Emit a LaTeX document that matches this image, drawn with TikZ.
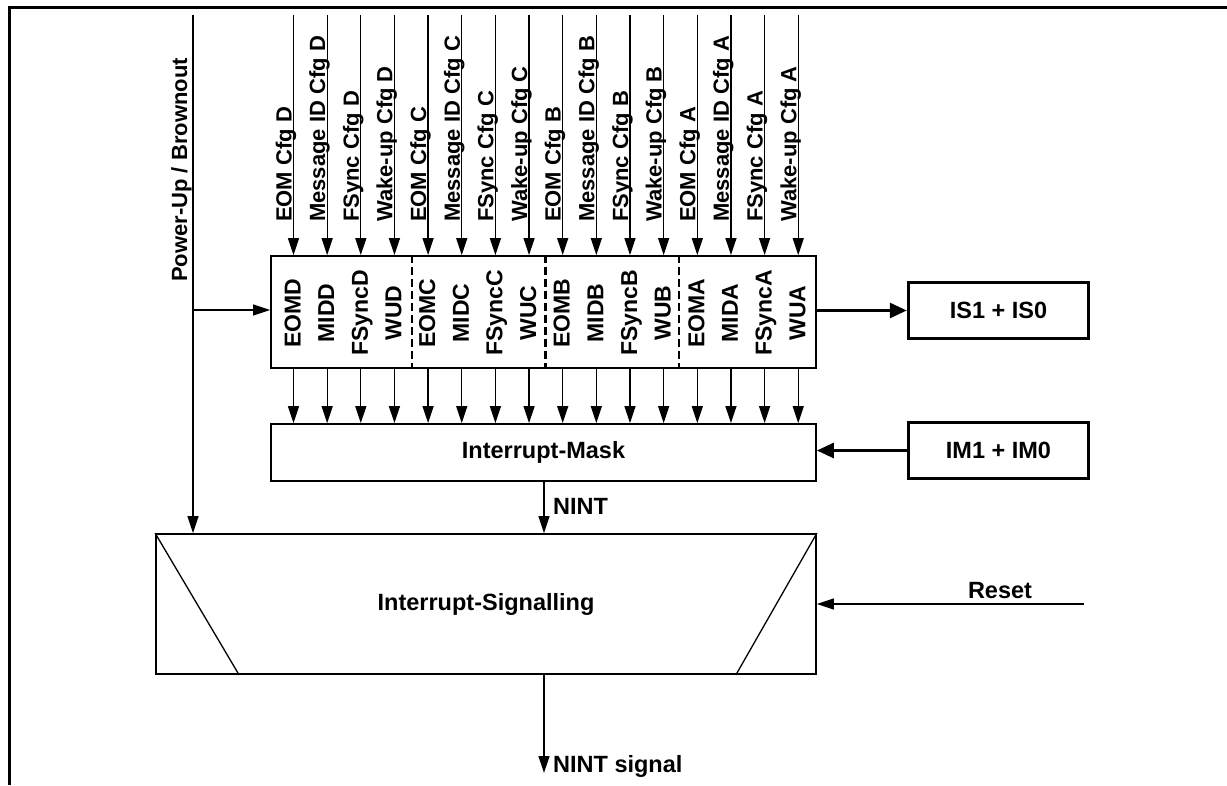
\documentclass[tikz,border=0pt]{standalone}
\usepackage{fontspec}
\setmainfont{Liberation Sans}
\usetikzlibrary{arrows.meta,calc}
\begin{document}
\begin{tikzpicture}[x=1pt,y=-1pt,
  every node/.style={font=\fontsize{23.5}{26}\selectfont\bfseries},
  small/.style={font=\fontsize{22}{25}\selectfont\bfseries},
  arr/.style={line width=1.3pt,-{Triangle[length=17pt,width=11pt]}},
  thickarr/.style={line width=3pt,-{Triangle[length=17pt,width=15pt]}},
  box/.style={draw,line width=1.8pt,inner sep=0pt},
  cfgbox/.style={draw,line width=3.5pt,inner sep=0pt,minimum width=180pt,minimum height=56pt},
  cfglabel/.style={small,rotate=90,anchor=base west,inner sep=0pt},
  bitlabel/.style={font=\fontsize{23}{26}\selectfont\bfseries,rotate=90,anchor=base,inner sep=0pt},
  sepline/.style={line width=2.2pt,dash pattern=on 8pt off 4pt},
]
\useasboundingbox (0,0) rectangle (1227,785);
\draw[line width=3pt] (9,785) -- (9,7) -- (1227,7);

\node[box,minimum width=545pt,minimum height=112pt] (reg) at (543.5,312) {};
\node[box,minimum width=545pt,minimum height=57pt] (mask) at (543.5,452.5) {Interrupt-Mask};
\node[box,minimum width=660pt,minimum height=140pt] (sig) at (486,604) {Interrupt-Signalling};
\node[cfgbox] (is) at (998.5,310.5) {IS1 + IS0};
\node[cfgbox] (im) at (998.5,450.5) {IM1 + IM0};

\foreach \i/\lab/\bit in {0/EOM Cfg D/EOMD, 1/Message ID Cfg D/MIDD, 2/FSync Cfg D/FSyncD, 3/Wake-up Cfg D/WUD,
  4/EOM Cfg C/EOMC, 5/Message ID Cfg C/MIDC, 6/FSync Cfg C/FSyncC, 7/Wake-up Cfg C/WUC,
  8/EOM Cfg B/EOMB, 9/Message ID Cfg B/MIDB, 10/FSync Cfg B/FSyncB, 11/Wake-up Cfg B/WUB,
  12/EOM Cfg A/EOMA, 13/Message ID Cfg A/MIDA, 14/FSync Cfg A/FSyncA, 15/Wake-up Cfg A/WUA} {
  \pgfmathsetmacro\xx{293.5+33.65*\i}
  \coordinate (t\i) at (\xx,15);
  \draw[arr] (t\i) -- (t\i |- reg.north);
  \node[cfglabel] (l\i) at (\xx-2,222) {\lab};
  \node[bitlabel] (b\i) at (\xx+7,313) {\bit};
  \draw[arr] (t\i |- reg.south) -- (t\i |- mask.north);
}
\foreach \x/\n in {412/1,545.5/2,679/3} {
  \coordinate (d\n) at (\x,0);
  \draw[sepline] (d\n |- reg.north) -- (d\n |- reg.south);
}

\coordinate (pw) at (193,15);
\draw[arr] (pw) -- (pw |- sig.north);
\coordinate (pb) at (193,310);
\draw[arr] (pb) -- (pb -| reg.west);
\node[small,rotate=90,anchor=base east,inner sep=0pt] (pwl) at (187,58) {Power-Up / Brownout};

\draw[thickarr] (reg.east |- is.west) -- (is.west);
\draw[thickarr] (im.west) -- (im.west -| mask.east);

\coordinate (nx) at (544,0);
\draw[arr] (nx |- mask.south) -- (nx |- sig.north);
\node[anchor=base west,inner sep=0pt] (nintl) at (553,514) {NINT};
\coordinate (ns) at (544,773);
\draw[arr] (nx |- sig.south) -- (ns);
\node[anchor=base west,inner sep=0pt] (nsl) at (553,772) {NINT signal};

\coordinate (rs) at (1084,604);
\draw[arr] (rs) -- (sig.east);
\node[anchor=base,inner sep=0pt] (rsl) at (1000,598) {Reset};

\draw[line width=1.3pt] (sig.north west) -- ([xshift=84pt]sig.south west);
\draw[line width=1.3pt] (sig.north east) -- ([xshift=-81pt]sig.south east);
\end{tikzpicture}
\end{document}
